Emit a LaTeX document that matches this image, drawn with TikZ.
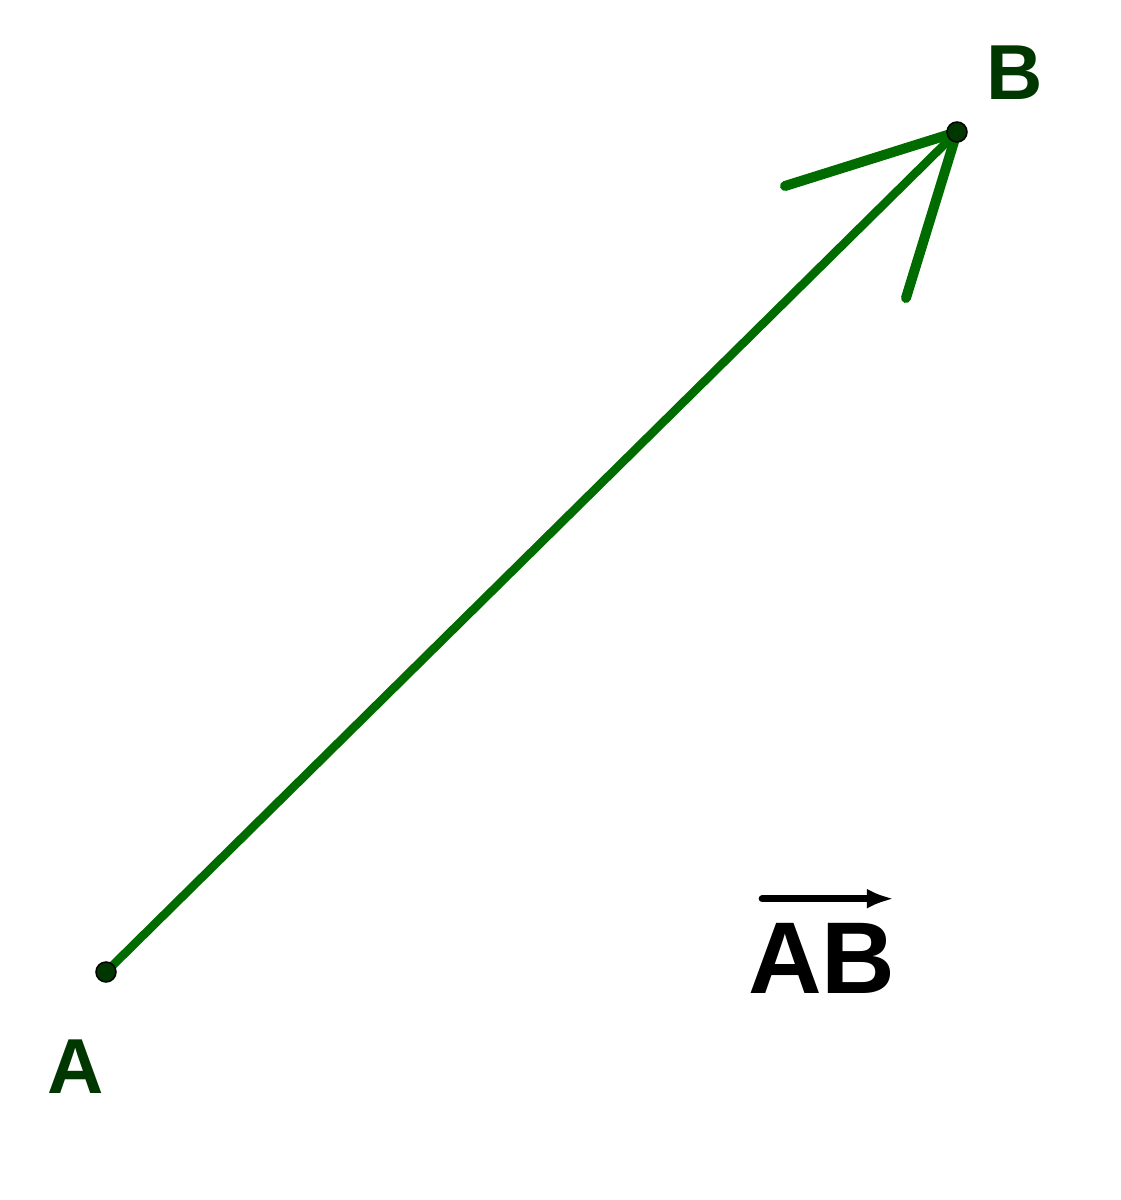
\documentclass[tikz,border=0pt]{standalone}
\usepackage{fontspec}
\setmainfont{Liberation Sans}
\usetikzlibrary{calc,positioning,arrows.meta}
\definecolor{vecgreen}{RGB}{0,108,0}
\definecolor{ptgreen}{RGB}{0,55,0}

\begin{document}
\begin{tikzpicture}[x=1pt,y=-1pt,
	pt/.style={circle,fill=ptgreen,draw=black,line width=1.5pt,minimum size=20pt,inner sep=0pt},
	lbl/.style={text=ptgreen,font=\fontsize{78}{80}\selectfont\bfseries,inner sep=0pt},
	vec/.style={vecgreen,line width=8.5pt,line cap=round}]
		\useasboundingbox (0,0) rectangle (1120,1200);
		\coordinate (A) at (106,972);
		\coordinate (B) at (957,132);
		\coordinate (bL) at (785,186);
		\coordinate (bR) at (906,298);
		\draw[vec] (A) -- (B);
		\draw[vec,line width=10pt] (bL) -- (B) -- (bR);
		\node[pt] (pA) at (A) {};
		\node[pt] (pB) at (B) {};
		\node[lbl] (lA) at (76,1067) {A};
		\node[lbl] (lB) at (1015,73) {B};
		% name of the vector
		\node[font=\fontsize{102}{104}\selectfont\bfseries,inner sep=0pt] (AB) at (822,958) {AB};
		\coordinate (ovL) at ($(AB.north west)+(14,-24)$);
		\coordinate (ovR) at ($(AB.north east)+(-2,-24)$);
		\draw[line width=7pt,line cap=round,-{Latex[length=27pt,width=20pt]}] (ovL) -- (ovR);
\end{tikzpicture}
\end{document}
